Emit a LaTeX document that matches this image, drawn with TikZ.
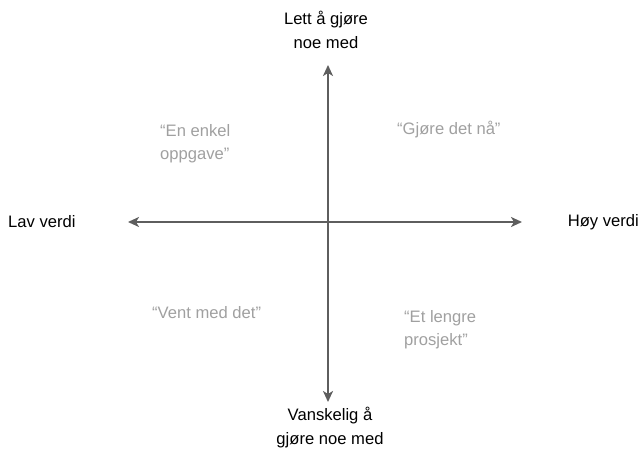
\documentclass[tikz,border=0pt]{standalone}
\usepackage{fontspec}
\setmainfont{Liberation Sans}
\usetikzlibrary{arrows.meta}
\definecolor{axisgray}{HTML}{5E5E5E}
\definecolor{quadgray}{HTML}{A0A0A0}
\begin{document}
\begin{tikzpicture}[x=1pt,y=-1pt,
  axislabel/.style={font=\fontsize{16.6}{24}\selectfont, text=black, align=center, inner sep=0pt},
  quadlabel/.style={font=\fontsize{16.6}{23}\selectfont, text=quadgray, align=left, inner sep=0pt},
  axisline/.style={draw=axisgray, line width=2pt, {Stealth[length=11pt,width=10pt,inset=3pt]}-{Stealth[length=11pt,width=10pt,inset=3pt]}}]
  \useasboundingbox (0,0) rectangle (642,457);

  % axis end points
  \coordinate (left)   at (128,222);
  \coordinate (right)  at (522,222);
  \coordinate (top)    at (328,65);
  \coordinate (bottom) at (328,402);

  % axes
  \draw[axisline] (left) -- (right);
  \draw[axisline] (bottom) -- (top);

  % axis labels
  \node[axislabel] (easy)  at (326,30)  {Lett å gjøre\\noe med};
  \node[axislabel] (hard)  at (330,428) {Vanskelig å\\gjøre noe med};
  \node[axislabel, anchor=west] (low)  at (8,222)   {Lav verdi};
  \node[axislabel, anchor=east] (high) at (639,222) {Høy verdi};

  % quadrant labels
  \node[quadlabel, anchor=west] (q1) at (160,144) {“En enkel\\oppgave”};
  \node[quadlabel, anchor=west] (q2) at (397,130) {“Gjøre det nå”};
  \node[quadlabel, anchor=west] (q3) at (152,313) {“Vent med det”};
  \node[quadlabel, anchor=west] (q4) at (404,330) {“Et lengre\\prosjekt”};
\end{tikzpicture}
\end{document}
